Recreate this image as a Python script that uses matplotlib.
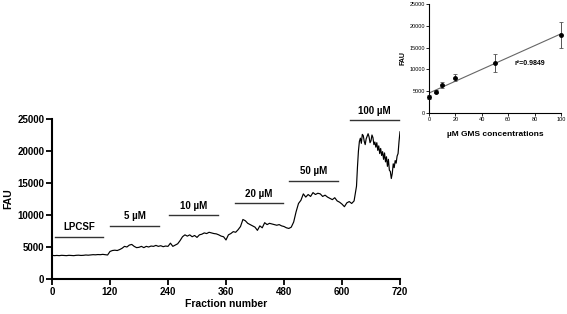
import matplotlib
matplotlib.use("Agg")
import matplotlib.pyplot as plt
import numpy as np

plt.rcParams['font.family'] = ['Liberation Sans', 'DejaVu Sans']

# Main trace (fraction number vs FAU)
fractions = list(range(0, 630, 5)) + list(range(630, 721, 2))
fau = [3700, 3650, 3680, 3650, 3700, 3680, 3650, 3700, 3680, 3650,
       3700, 3720, 3680, 3700, 3750, 3720, 3760, 3800, 3780, 3820,
       3800, 3850, 3800, 3750, 4300, 4450, 4500, 4450, 4600, 4800,
       5100, 5000, 5300, 5400, 5100, 4900, 4950, 5100, 4900, 5100,
       5000, 5150, 5100, 5250, 5100, 5200, 5050, 5150, 5100, 5600,
       5100, 5300, 5500, 6000, 6600, 6900, 6700, 6900, 6600, 6800,
       6500, 6900, 7000, 7200, 7100, 7300, 7200, 7100, 7050, 6900,
       6700, 6600, 6100, 6900, 7100, 7400, 7300, 7700, 8200, 9300,
       9100, 8700, 8500, 8300, 8100, 7600, 8300, 8000, 8800, 8500,
       8700, 8600, 8500, 8400, 8500, 8300, 8200, 8000, 7900, 8100,
       8900, 10500, 11800, 12300, 13300, 12800, 13200, 12900, 13500, 13200,
       13400, 13300, 12900, 13100, 12800, 12600, 12400, 12700, 12200, 12000,
       11700, 11300, 11900, 12100, 11800, 12200,
       14500, 17500, 20000, 21500, 22000, 21200, 22600, 22400, 21500, 21000,
       21900, 22300, 22700, 22200, 21300, 21600, 22500, 22100, 21000, 21400,
       20600, 21300, 20100, 20800, 19600, 20400, 19300, 19900, 18700, 19700,
       18300, 19100, 17600, 18700, 17000, 16800, 15700, 16500, 18000, 17400,
       18500, 18100, 19200, 19600, 21500, 23000]

# Perfusion periods
period_labels = ["LPCSF", "5 µM", "10 µM", "20 µM", "50 µM", "100 µM"]
period_start = [7, 121, 243, 379, 491, 617]
period_end = [106, 221, 343, 478, 592, 717]
period_level = [6600, 8340, 9940, 11800, 15360, 24840]

# Inset calibration data
conc = [0, 5, 10, 20, 50, 100]
conc_fau = [3700, 4900, 6500, 8100, 11500, 17900]
conc_err = [400, 300, 700, 800, 2000, 3000]
r2_text = "r²=0.9849"

fig = plt.figure(figsize=(5.67, 3.14), dpi=100)

ax = fig.add_axes([52/567, 1-279/314, 348/567, 160/314])
ax.plot(fractions, fau, color='black', lw=0.85)
for lab, s, e, lev in zip(period_labels, period_start, period_end, period_level):
    ax.plot([s, e], [lev, lev], color='#333333', lw=1.0, clip_on=False)
    ax.text((s+e)/2, lev + 700, lab, ha='center', va='bottom', fontsize=7,
            fontweight='bold', clip_on=False)
ax.set_xlim(0, 720)
ax.set_ylim(0, 25000)
ax.set_xticks(range(0, 721, 120))
ax.set_yticks(range(0, 25001, 5000))
for s in ['top', 'right']:
    ax.spines[s].set_visible(False)
for s in ['left', 'bottom']:
    ax.spines[s].set_linewidth(1.5)
ax.tick_params(width=1.3, length=4, labelsize=7, pad=1.5)
for t in ax.get_xticklabels() + ax.get_yticklabels():
    t.set_fontweight('bold')
ax.set_xlabel("Fraction number", fontsize=7.5, fontweight='bold', labelpad=2)
ax.set_ylabel("FAU", fontsize=7.5, fontweight='bold', labelpad=3)

# Inset
ax2 = fig.add_axes([429/567, 1-113/314, 132/567, 109/314])
eb = ax2.errorbar(conc, conc_fau, yerr=conc_err, fmt='o', color='black', ms=2.5,
                  ecolor='#555555', elinewidth=0.7, capsize=1.2, capthick=0.6, zorder=3)
for artist in eb.lines[0:1] + tuple(eb.lines[1]) + tuple(eb.lines[2]):
    artist.set_clip_on(False)
slope, intercept = np.polyfit(conc, conc_fau, 1)
xx = np.array([0, 100])
ax2.plot(xx, slope*xx + intercept, color='#666666', lw=0.8)
ax2.text(65, 11240, r2_text, fontsize=5, fontweight='bold', va='center')
ax2.set_xlim(0, 100)
ax2.set_ylim(0, 25000)
ax2.set_xticks(range(0, 101, 20))
ax2.set_yticks(range(0, 25001, 5000))
for s in ['top', 'right']:
    ax2.spines[s].set_visible(False)
for s in ['left', 'bottom']:
    ax2.spines[s].set_linewidth(0.8)
ax2.tick_params(width=0.6, length=2, labelsize=4, pad=1)
ax2.set_xlabel("µM GMS concentrations", fontsize=6, fontweight='bold', labelpad=6)
ax2.set_ylabel("FAU", fontsize=5, fontweight='bold', labelpad=2)

fig.savefig("out.png", dpi=100)
